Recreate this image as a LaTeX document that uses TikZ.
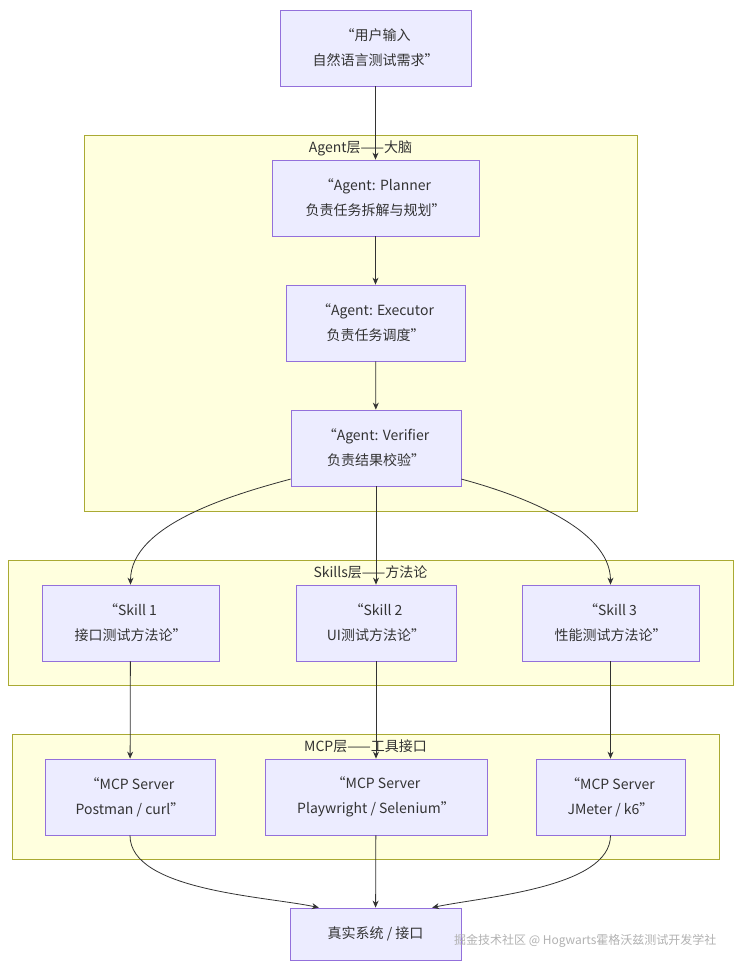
\documentclass[tikz,border=0pt]{standalone}
\usepackage{fontspec}
\setmainfont{Noto Sans CJK SC}
\usetikzlibrary{positioning,arrows.meta}
\definecolor{nodefill}{HTML}{ECECFF}
\definecolor{nodeline}{HTML}{9370DB}
\definecolor{clusterfill}{HTML}{FFFFDE}
\definecolor{clusterline}{HTML}{AAAA33}
\definecolor{edgecolor}{HTML}{333333}
\begin{document}
\begin{tikzpicture}[
        x=1pt, y=-1pt,
        box/.style={rectangle, draw=nodeline, fill=nodefill, line width=0.8pt, minimum height=76pt, align=center, inner sep=0pt, font=\fontsize{14}{25}\selectfont, text=edgecolor},
        cluster/.style={rectangle, draw=clusterline, fill=clusterfill, line width=0.8pt},
        title/.style={font=\fontsize{14}{16}\selectfont, text=edgecolor, anchor=north},
        arrow/.style={-{Stealth[length=7pt,width=6pt]}, edgecolor, line width=0.8pt}
    ]
        \useasboundingbox (0,0) rectangle (741,972);
        \fill[white] (0,0) rectangle (741,972);
        % clusters
        \draw[cluster] (84,135) rectangle (637,511);
        \node[title] (agenttitle) at (360.5,137) {Agent层——大脑};
        \draw[cluster] (8,560) rectangle (733,685);
        \node[title] (skilltitle) at (370.5,562) {Skills层——方法论};
        \draw[cluster] (12,734) rectangle (719,859);
        \node[title] (mcptitle) at (365.5,736) {MCP层——工具接口};
        % nodes
        \node[box, minimum width=191pt] (input) at (375.5,48) {“用户输入\\自然语言测试需求”};
        \node[box, minimum width=207pt] (planner) at (375.5,198) {“Agent: Planner\\负责任务拆解与规划”};
        \node[box, minimum width=179pt] (executor) at (375.5,323) {“Agent: Executor\\负责任务调度”};
        \node[box, minimum width=170pt] (verifier) at (376,448) {“Agent: Verifier\\负责结果校验”};
        \node[box, minimum width=177pt] (skill1) at (130.5,623) {“Skill 1\\接口测试方法论”};
        \node[box, minimum width=160pt] (skill2) at (376,623) {“Skill 2\\UI测试方法论”};
        \node[box, minimum width=177pt] (skill3) at (610.5,623) {“Skill 3\\性能测试方法论”};
        \node[box, minimum width=170pt] (mcp1) at (130,797) {“MCP Server\\Postman / curl”};
        \node[box, minimum width=222pt] (mcp2) at (376,797) {“MCP Server\\Playwright / Selenium”};
        \node[box, minimum width=149pt] (mcp3) at (610.5,797) {“MCP Server\\JMeter / k6”};
        \node[box, minimum width=171pt, minimum height=52pt] (real) at (375.5,934) {真实系统 / 接口};
        % edges
        \draw[arrow] (input) -- (planner);
        \draw[arrow] (planner) -- (executor);
        \draw[arrow] (executor) -- (verifier);
        \draw[arrow] (verifier.200) to[out=195,in=90,looseness=0.8] (skill1.north);
        \draw[arrow] (verifier) -- (skill2);
        \draw[arrow] (verifier.-20) to[out=-15,in=90,looseness=0.8] (skill3.north);
        \draw[arrow] (skill1) -- (mcp1);
        \draw[arrow] (skill2) -- (mcp2);
        \draw[arrow] (skill3) -- (mcp3);
        \draw[arrow] (mcp1.south) to[out=-90,in=168,looseness=0.7] (real.155);
        \draw[arrow] (mcp2) -- (real);
        \draw[arrow] (mcp3.south) to[out=-90,in=12,looseness=0.7] (real.25);
        % watermark
        \node[font=\fontsize{12}{14}\selectfont, text=gray!60, anchor=east] (mark) at (720,941) {掘金技术社区 @ Hogwarts霍格沃兹测试开发学社};
    \end{tikzpicture}
\end{document}
